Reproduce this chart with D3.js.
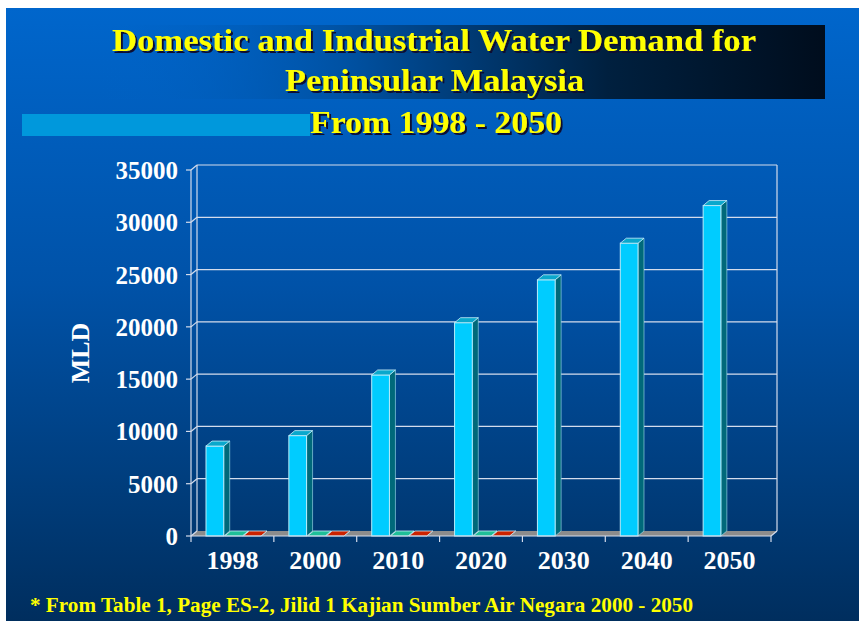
<!DOCTYPE html>
<html>
<head>
<meta charset="utf-8">
<style>
html, body { margin: 0; padding: 0; background: #fff; }
svg { display: block; }
</style>
</head>
<body>
<svg width="859" height="621" font-family="'Liberation Serif', 'Times New Roman', serif"></svg>
<script src="https://cdn.jsdelivr.net/npm/d3@7/dist/d3.min.js"></script>
<script>

// data
var years = ["1998", "2000", "2010", "2020", "2030", "2040", "2050"];
var demand = [8600, 9600, 15400, 20400, 24500, 28000, 31600];
var domesticPart = [0, 0, 0, 0, null, null, null];
var industrialPart = [0, 0, 0, 0, null, null, null];
var yTicks = [0, 5000, 10000, 15000, 20000, 25000, 30000, 35000];
var titleLines = ["Domestic and Industrial Water Demand for", "Peninsular Malaysia", "From 1998 - 2050"];
var yLabel = "MLD";
var footnote = "* From Table 1, Page ES-2, Jilid 1 Kajian Sumber Air Negara 2000 - 2050";

var series = [
  {key: "demand", values: demand, front: "#00ccff", top: "#0aa8cc", side: "#00697a"},
  {key: "domestic", values: domesticPart, front: "#1fbf98", top: "#1fbf98", side: "#137a60"},
  {key: "industrial", values: industrialPart, front: "#cc2200", top: "#cc2200", side: "#7a1400"}
];

var svg = d3.select("svg"),
    width = +svg.attr("width"),
    height = +svg.attr("height");

var defs = svg.append("defs");

var bg = defs.append("linearGradient").attr("id", "bg")
    .attr("x1", 0).attr("y1", 0).attr("x2", 0).attr("y2", 1);
bg.append("stop").attr("offset", "0%").attr("stop-color", "#0066cc");
bg.append("stop").attr("offset", "45%").attr("stop-color", "#0052a8");
bg.append("stop").attr("offset", "75%").attr("stop-color", "#003f80");
bg.append("stop").attr("offset", "100%").attr("stop-color", "#002e5e");

var box = defs.append("linearGradient").attr("id", "box")
    .attr("x1", 0).attr("y1", 0).attr("x2", 1).attr("y2", 0);
box.append("stop").attr("offset", "0%").attr("stop-color", "#0064c8").attr("stop-opacity", 0);
box.append("stop").attr("offset", "35%").attr("stop-color", "#0050a0");
box.append("stop").attr("offset", "70%").attr("stop-color", "#00203f");
box.append("stop").attr("offset", "100%").attr("stop-color", "#000d1d");

defs.append("filter").attr("id", "shadow")
    .attr("x", "-5%").attr("y", "-20%").attr("width", "110%").attr("height", "140%")
  .append("feDropShadow")
    .attr("dx", 2).attr("dy", 2).attr("stdDeviation", 0.3)
    .attr("flood-color", "#0a1030").attr("flood-opacity", 1);

// slide background
svg.append("rect").attr("width", width).attr("height", height).attr("fill", "#fff");
svg.append("rect").attr("x", 6).attr("y", 8).attr("width", width - 6).attr("height", height - 8)
    .attr("fill", "url(#bg)");

// title decorations
svg.append("rect").attr("x", 100).attr("y", 25).attr("width", 725).attr("height", 74)
    .attr("fill", "url(#box)");
svg.append("rect").attr("x", 22).attr("y", 114).attr("width", 288).attr("height", 22)
    .attr("fill", "#0098dc");

var titlePos = [
  {x: 434, y: 51, len: 644},
  {x: 434.5, y: 91, len: 299},
  {x: 436, y: 133, len: 252}
];

titleLines.forEach(function(t, i) {
  var p = titlePos[i];
  svg.append("text")
      .attr("x", p.x).attr("y", p.y)
      .attr("text-anchor", "middle")
      .attr("font-size", 32).attr("font-weight", "bold")
      .attr("textLength", p.len).attr("lengthAdjust", "spacingAndGlyphs")
      .attr("fill", "#ffff00")
      .attr("filter", "url(#shadow)")
      .text(t);
});

// chart
var x = d3.scaleBand().domain(years).range([191, 771]);
var inner = d3.scaleBand().domain(series.map(function(s) { return s.key; }))
    .range([15, 70]).paddingInner(0.05);
var y = d3.scaleLinear().domain([0, 35000]).range([536, 170]);
var dx = 6, dy = 5;
var lineColor = "#d4dcec";

var chart = svg.append("g");

// floor
var x0 = x.range()[0], x1 = x.range()[1];
chart.append("polygon")
    .attr("points", [[x0, y(0)], [x1, y(0)], [x1 + dx, y(0) - dy], [x0 + dx, y(0) - dy]].join(" "))
    .attr("fill", "#8c8c8c");

// back wall grid and side wall
chart.selectAll(".grid")
  .data(yTicks.filter(function(t) { return t > 0; }))
  .enter().append("line")
    .attr("x1", x0 + dx).attr("x2", x1 + dx)
    .attr("y1", function(d) { return y(d) - dy; })
    .attr("y2", function(d) { return y(d) - dy; })
    .attr("stroke", lineColor).attr("stroke-width", 1.2);

chart.selectAll(".side")
  .data(yTicks)
  .enter().append("line")
    .attr("x1", x0).attr("x2", x0 + dx)
    .attr("y1", function(d) { return y(d); })
    .attr("y2", function(d) { return y(d) - dy; })
    .attr("stroke", lineColor).attr("stroke-width", 1.2);

chart.append("line")
    .attr("x1", x0 + dx).attr("x2", x0 + dx)
    .attr("y1", y(0) - dy).attr("y2", y(35000) - dy)
    .attr("stroke", lineColor).attr("stroke-width", 1.2);
chart.append("line")
    .attr("x1", x1 + dx).attr("x2", x1 + dx)
    .attr("y1", y(0) - dy).attr("y2", y(35000) - dy)
    .attr("stroke", lineColor).attr("stroke-width", 1.2);
chart.append("line")
    .attr("x1", x1).attr("x2", x1 + dx)
    .attr("y1", y(0)).attr("y2", y(0) - dy)
    .attr("stroke", lineColor).attr("stroke-width", 1.2);

// bars
var bw = inner.bandwidth();
series.forEach(function(s) {
  var g = chart.append("g");
  years.forEach(function(yr, i) {
    var v = s.values[i];
    if (v == null) return;
    var bx = x(yr) + inner(s.key), top = y(v), base = y(0);
    g.append("polygon")
        .attr("points", [[bx + bw, top], [bx + bw + dx, top - dy], [bx + bw + dx, base - dy], [bx + bw, base]].join(" "))
        .attr("fill", s.side).attr("stroke", "#a8e4f4").attr("stroke-width", 0.6);
    g.append("rect")
        .attr("x", bx).attr("y", top).attr("width", bw).attr("height", base - top)
        .attr("fill", s.front).attr("stroke", "#b8ecfa").attr("stroke-width", 1);
    g.append("polygon")
        .attr("points", [[bx, top], [bx + bw, top], [bx + bw + dx, top - dy], [bx + dx, top - dy]].join(" "))
        .attr("fill", s.top).attr("stroke", "#c8eefa").attr("stroke-width", 0.8);
  });
});

// front axes
chart.append("line")
    .attr("x1", x0).attr("x2", x0).attr("y1", y(0)).attr("y2", y(35000))
    .attr("stroke", lineColor).attr("stroke-width", 1.2);
chart.append("line")
    .attr("x1", x0).attr("x2", x1).attr("y1", y(0)).attr("y2", y(0))
    .attr("stroke", lineColor).attr("stroke-width", 1.2);

chart.selectAll(".ytick")
  .data(yTicks)
  .enter().append("line")
    .attr("x1", x0 - 5).attr("x2", x0)
    .attr("y1", function(d) { return y(d); })
    .attr("y2", function(d) { return y(d); })
    .attr("stroke", lineColor).attr("stroke-width", 1.2);

chart.selectAll(".xtick")
  .data(years.map(function(d) { return x(d); }).concat([x1]))
  .enter().append("line")
    .attr("x1", function(d) { return d; }).attr("x2", function(d) { return d; })
    .attr("y1", y(0)).attr("y2", y(0) + 6)
    .attr("stroke", lineColor).attr("stroke-width", 1.2);

// labels
chart.selectAll(".ylab")
  .data(yTicks)
  .enter().append("text")
    .attr("x", 178)
    .attr("y", function(d) { return y(d) + 9; })
    .attr("text-anchor", "end")
    .attr("font-size", 25).attr("font-weight", "bold")
    .attr("fill", "#fff")
    .text(function(d) { return d; });

chart.selectAll(".xlab")
  .data(years)
  .enter().append("text")
    .attr("x", function(d) { return x(d) + x.bandwidth() / 2; })
    .attr("y", 569)
    .attr("text-anchor", "middle")
    .attr("font-size", 26).attr("font-weight", "bold")
    .attr("fill", "#fff")
    .text(function(d) { return d; });

svg.append("text")
    .attr("transform", "translate(89,353) rotate(-90)")
    .attr("text-anchor", "middle")
    .attr("font-size", 26).attr("font-weight", "bold")
    .attr("fill", "#fff")
    .text(yLabel);

svg.append("text")
    .attr("x", 30).attr("y", 612)
    .attr("font-size", 20).attr("font-weight", "bold")
    .attr("textLength", 663).attr("lengthAdjust", "spacingAndGlyphs")
    .attr("fill", "#ffff00")
    .text(footnote);

</script>
</body>
</html>
